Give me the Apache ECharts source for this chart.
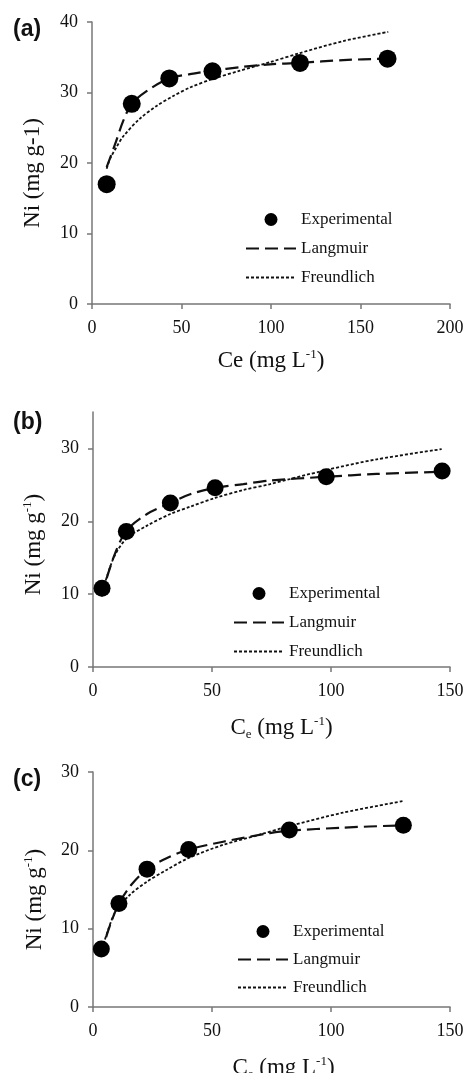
<!DOCTYPE html>
<html>
<head>
<meta charset="utf-8">
<script src="https://cdn.jsdelivr.net/npm/echarts@6/dist/echarts.min.js"></script>
<style>
  html, body { margin: 0; padding: 0; background: #fff; }
  #chart { width: 469px; height: 1073px; }
</style>
</head>
<body>
<div id="chart"></div>
<script>
// panel (a)
const expA = [[8.2, 17.0], [22.2, 28.4], [43.2, 32.0], [67.3, 33.0], [116.2, 34.2], [165.1, 34.8]];
const langA = [[8.2, 19.4], [12.8, 22.6], [17.5, 26.0], [22.2, 28.4], [30.5, 30.2], [43.0, 32.0], [54.7, 32.6],
    [67.2, 33.1], [82.7, 33.6], [99.4, 34.0], [116.2, 34.2], [140.4, 34.6], [165.2, 34.8]];
const freuA = [[8.2, 19.2], [10.1, 20.6], [13.8, 22.3], [17.5, 23.8], [26.8, 26.3], [36.1, 28.1], [45.4, 29.5],
    [54.7, 30.7], [67.2, 31.9], [82.7, 33.1], [99.4, 34.3], [116.2, 35.6], [140.4, 37.3], [165.5, 38.6]];

// panel (b)
const expB = [[3.8, 10.8], [14.0, 18.6], [32.5, 22.5], [51.3, 24.6], [98.0, 26.1], [146.7, 26.9]];
const langB = [[3.5, 9.7], [8.7, 15.1], [14.0, 18.7], [22.7, 21.0], [32.5, 22.5], [40.8, 23.7], [51.3, 24.6],
    [63.2, 25.1], [74.4, 25.6], [97.5, 26.1], [119.2, 26.5], [146.5, 26.8]];
const freuB = [[3.5, 9.9], [8.7, 15.0], [14.0, 17.6], [22.7, 19.4], [32.5, 21.0], [40.8, 22.0], [51.3, 23.2],
    [63.2, 24.3], [74.4, 25.1], [97.5, 27.0], [119.2, 28.5], [146.5, 29.9]];

// panel (c)
const expC = [[3.5, 7.4], [10.9, 13.2], [22.7, 17.6], [40.2, 20.1], [82.5, 22.6], [130.4, 23.2]];
const langC = [[3.2, 6.6], [7.0, 10.3], [10.9, 13.2], [16.1, 15.6], [22.7, 17.6], [30.9, 19.0], [40.2, 20.1],
    [54.7, 21.1], [74.3, 22.2], [82.5, 22.5], [105.0, 22.9], [130.4, 23.2]];
const freuC = [[3.2, 6.8], [9.1, 12.0], [15.4, 14.3], [22.7, 16.0], [30.9, 17.5], [40.0, 19.0], [54.7, 20.7],
    [70.0, 22.0], [82.4, 23.1], [105.0, 24.8], [130.4, 26.3]];

const panelLabels = ['(a)', '(b)', '(c)'];
const xMax = [200, 150, 150];
const yMax = [40, 35, 30];
const yTicks = [[0, 10, 20, 30, 40], [0, 10, 20, 30], [0, 10, 20, 30]];
const xTitles = ['Ce (mg L{sup|-1})', 'C{sub|e} (mg L{sup|-1})', 'C{sub|e} (mg L{sup|-1})'];
const yTitles = ['Ni (mg g-1)', 'Ni (mg g{sup|-1})', 'Ni (mg g{sup|-1})'];

const ink = '#111';
const axisGray = '#777';
const serif = '"Liberation Serif", "Times New Roman", serif';

// outerBoundsMode 'none' keeps the plot boxes where they are in the original
const grids = [
    { left: 92, top: 22, width: 358, height: 282, outerBoundsMode: 'none' },
    { left: 93, top: 412, width: 357, height: 255, outerBoundsMode: 'none' },
    { left: 93, top: 772, width: 357, height: 235, outerBoundsMode: 'none' }
];
const xGap = [44, 48, 48];
const yGap = [46, 46, 45];
// titles in the original sit a little off the axis middle
const xNamePad = [[0, 0, 0, 0], [0, 0, 0, 20], [0, 0, 0, 24]];
const yNamePad = [[0, 20, 0, 0], [0, 10, 0, 0], [0, 20, 0, 0]];
const legendPos = [{ left: 245, top: 211 }, { left: 233, top: 585 }, { left: 237, top: 923 }];
const legendGap = [12, 12, 11];
const labelTop = [18, 411, 768];

let nameRich = {
    sup: { fontFamily: serif, fontSize: 13, color: ink, verticalAlign: 'top', lineHeight: 13 },
    sub: { fontFamily: serif, fontSize: 13, color: ink, verticalAlign: 'bottom', lineHeight: 11 }
};

let chart = echarts.init(document.getElementById('chart'));

let xAxes = [], yAxes = [], series = [], legends = [], titles = [];
let sets = [[expA, langA, freuA], [expB, langB, freuB], [expC, langC, freuC]];

sets.forEach((set, i) => {
    xAxes.push({
        type: 'value', gridIndex: i, min: 0, max: xMax[i], interval: 50,
        name: xTitles[i], nameLocation: 'middle', nameGap: xGap[i],
        nameTextStyle: { fontFamily: serif, fontSize: 23, color: ink, lineHeight: 26, padding: xNamePad[i], rich: nameRich },
        axisLine: { lineStyle: { color: axisGray, width: 1.5 } },
        axisTick: { show: true, inside: false, length: 5, lineStyle: { color: axisGray, width: 1.5 } },
        axisLabel: { fontFamily: serif, fontSize: 18, color: ink, margin: 15 },
        splitLine: { show: false }
    });
    yAxes.push({
        type: 'value', gridIndex: i, min: 0, max: yMax[i], interval: 10,
        name: yTitles[i], nameLocation: 'middle', nameGap: yGap[i],
        nameTextStyle: { fontFamily: serif, fontSize: 23, color: ink, lineHeight: 26, padding: yNamePad[i], rich: nameRich },
        axisLine: { show: true, lineStyle: { color: axisGray, width: 1.5 } },
        axisTick: { show: true, inside: false, length: 5, customValues: yTicks[i], lineStyle: { color: axisGray, width: 1.5 } },
        axisLabel: { fontFamily: serif, fontSize: 18, color: ink, margin: 14, customValues: yTicks[i] },
        splitLine: { show: false }
    });
    series.push({
        name: 'Experimental', type: 'scatter', xAxisIndex: i, yAxisIndex: i,
        symbol: 'circle', symbolSize: i === 0 ? 18 : 17, z: 3,
        itemStyle: { color: '#000', opacity: 1 },
        data: set[0]
    });
    series.push({
        name: 'Langmuir', type: 'line', xAxisIndex: i, yAxisIndex: i,
        smooth: 0.3, symbol: 'none', z: 2,
        itemStyle: { color: ink },
        lineStyle: { color: ink, width: 2.2, type: [13, 6] },
        data: set[1]
    });
    series.push({
        name: 'Freundlich', type: 'line', xAxisIndex: i, yAxisIndex: i,
        smooth: 0.3, symbol: 'none', z: 2,
        itemStyle: { color: ink },
        lineStyle: { color: ink, width: 1.8, type: [3, 2] },
        data: set[2]
    });
    legends.push({
        orient: 'vertical', left: legendPos[i].left, top: legendPos[i].top,
        padding: 0,
        itemWidth: 50, itemHeight: 13, itemGap: legendGap[i],
        selectedMode: false,
        textStyle: { fontFamily: serif, fontSize: 17, color: ink },
        data: [
            { name: 'Experimental', itemStyle: { color: '#000', opacity: 1 } },
            { name: 'Langmuir', itemStyle: { opacity: 0 } },
            { name: 'Freundlich', itemStyle: { opacity: 0 } }
        ]
    });
    titles.push({
        text: panelLabels[i], left: 13, top: labelTop[i], padding: 0,
        textStyle: { fontFamily: '"Liberation Sans", Arial, sans-serif', fontSize: 23, fontWeight: 'bold', color: ink }
    });
});

let option = {
    backgroundColor: '#fff',
    animation: false,
    title: titles,
    legend: legends,
    grid: grids,
    xAxis: xAxes,
    yAxis: yAxes,
    series: series
};

chart.setOption(option);
</script>
</body>
</html>
